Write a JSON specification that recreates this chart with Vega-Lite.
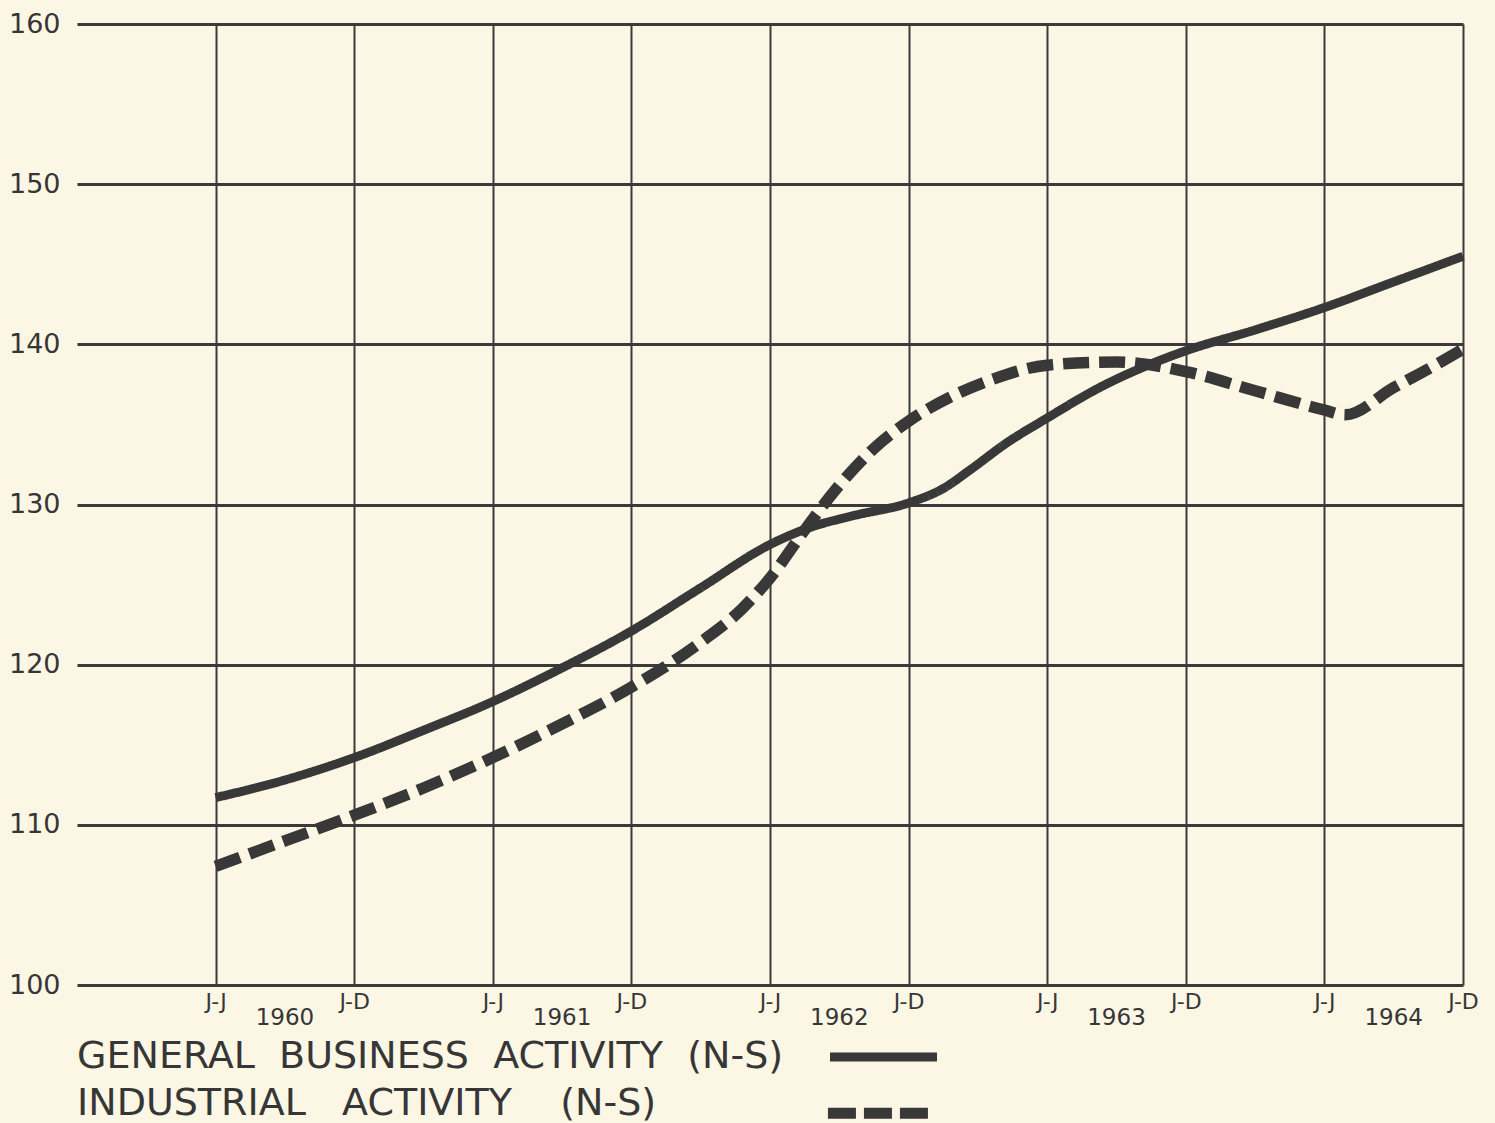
{
  "$schema": "https://vega.github.io/schema/vega-lite/v6.json",
  "width": 1386,
  "height": 961,
  "autosize": {"type": "none"},
  "padding": {"left": 77, "top": 24, "right": 32, "bottom": 138},
  "background": "#fbf7e4",
  "config": {
    "view": {"stroke": null},
    "font": "DejaVu Sans",
    "text": {"font": "DejaVu Sans", "color": "#363636"}
  },
  "datasets": {
    "series": [
      {"series": "General Business Activity (N-S)", "t": 0, "value": 111.7},
      {"series": "General Business Activity (N-S)", "t": 0.5, "value": 112.8},
      {"series": "General Business Activity (N-S)", "t": 1, "value": 114.2},
      {"series": "General Business Activity (N-S)", "t": 1.5, "value": 115.9},
      {"series": "General Business Activity (N-S)", "t": 2, "value": 117.7},
      {"series": "General Business Activity (N-S)", "t": 2.5, "value": 119.8},
      {"series": "General Business Activity (N-S)", "t": 3, "value": 122.1},
      {"series": "General Business Activity (N-S)", "t": 3.5, "value": 124.8},
      {"series": "General Business Activity (N-S)", "t": 4, "value": 127.5},
      {"series": "General Business Activity (N-S)", "t": 4.3, "value": 128.6},
      {"series": "General Business Activity (N-S)", "t": 4.6, "value": 129.3},
      {"series": "General Business Activity (N-S)", "t": 5, "value": 130.1},
      {"series": "General Business Activity (N-S)", "t": 5.25, "value": 131.0},
      {"series": "General Business Activity (N-S)", "t": 5.45, "value": 132.2},
      {"series": "General Business Activity (N-S)", "t": 5.7, "value": 133.8},
      {"series": "General Business Activity (N-S)", "t": 6, "value": 135.4},
      {"series": "General Business Activity (N-S)", "t": 6.4, "value": 137.4},
      {"series": "General Business Activity (N-S)", "t": 6.7, "value": 138.6},
      {"series": "General Business Activity (N-S)", "t": 7, "value": 139.6},
      {"series": "General Business Activity (N-S)", "t": 7.5, "value": 140.9},
      {"series": "General Business Activity (N-S)", "t": 8, "value": 142.3},
      {"series": "General Business Activity (N-S)", "t": 8.5, "value": 143.9},
      {"series": "General Business Activity (N-S)", "t": 9, "value": 145.5},
      {"series": "Industrial Activity (N-S)", "t": 0, "value": 107.4},
      {"series": "Industrial Activity (N-S)", "t": 0.5, "value": 109.0},
      {"series": "Industrial Activity (N-S)", "t": 1, "value": 110.6},
      {"series": "Industrial Activity (N-S)", "t": 1.5, "value": 112.3},
      {"series": "Industrial Activity (N-S)", "t": 2, "value": 114.2},
      {"series": "Industrial Activity (N-S)", "t": 2.5, "value": 116.3},
      {"series": "Industrial Activity (N-S)", "t": 3, "value": 118.6},
      {"series": "Industrial Activity (N-S)", "t": 3.5, "value": 121.4},
      {"series": "Industrial Activity (N-S)", "t": 3.8, "value": 123.5},
      {"series": "Industrial Activity (N-S)", "t": 4, "value": 125.4},
      {"series": "Industrial Activity (N-S)", "t": 4.25, "value": 128.4},
      {"series": "Industrial Activity (N-S)", "t": 4.5, "value": 131.2},
      {"series": "Industrial Activity (N-S)", "t": 4.75, "value": 133.5},
      {"series": "Industrial Activity (N-S)", "t": 5, "value": 135.2},
      {"series": "Industrial Activity (N-S)", "t": 5.3, "value": 136.7},
      {"series": "Industrial Activity (N-S)", "t": 5.6, "value": 137.8},
      {"series": "Industrial Activity (N-S)", "t": 6, "value": 138.7},
      {"series": "Industrial Activity (N-S)", "t": 6.5, "value": 138.9},
      {"series": "Industrial Activity (N-S)", "t": 7, "value": 138.3},
      {"series": "Industrial Activity (N-S)", "t": 7.5, "value": 137.1},
      {"series": "Industrial Activity (N-S)", "t": 8, "value": 135.9},
      {"series": "Industrial Activity (N-S)", "t": 8.15, "value": 135.6},
      {"series": "Industrial Activity (N-S)", "t": 8.5, "value": 137.3},
      {"series": "Industrial Activity (N-S)", "t": 8.8, "value": 138.7},
      {"series": "Industrial Activity (N-S)", "t": 9, "value": 139.7}
    ],
    "years": [
      {"year": "1960", "t": 0.5},
      {"year": "1961", "t": 2.5},
      {"year": "1962", "t": 4.5},
      {"year": "1963", "t": 6.5},
      {"year": "1964", "t": 8.5}
    ]
  },
  "layer": [
    {
      "data": {"name": "series"},
      "mark": {"type": "line", "interpolate": "monotone", "color": "#383838", "strokeCap": "butt"},
      "encoding": {
        "x": {
          "field": "t", "type": "quantitative",
          "scale": {"domain": [-1, 9], "nice": false, "zero": false},
          "axis": {
            "title": null, "values": [0, 1, 2, 3, 4, 5, 6, 7, 8, 9],
            "labelExpr": "datum.value % 2 == 0 ? 'J-J' : 'J-D'",
            "grid": true, "gridColor": "#3a3a3a", "gridWidth": 2, "gridOpacity": 1,
            "domain": false, "ticks": false, "labelPadding": 6,
            "labelFontSize": 22, "labelColor": "#363636", "labelFont": "DejaVu Sans",
            "labelFlush": false, "labelOverlap": false
          }
        },
        "y": {
          "field": "value", "type": "quantitative",
          "scale": {"domain": [100, 160], "nice": false, "zero": false},
          "axis": {
            "title": null, "values": [100, 110, 120, 130, 140, 150, 160],
            "grid": true, "gridColor": "#3a3a3a", "gridWidth": 3, "gridOpacity": 1,
            "domain": false, "ticks": false, "labelPadding": 17,
            "labelFontSize": 27, "labelColor": "#363636", "labelFont": "DejaVu Sans",
            "labelFlush": false, "labelOverlap": false
          }
        },
        "detail": {"field": "series"},
        "strokeDash": {
          "field": "series", "type": "nominal",
          "scale": {"domain": ["General Business Activity (N-S)", "Industrial Activity (N-S)"], "range": [[1, 0], [26, 10]]},
          "legend": null
        },
        "strokeWidth": {
          "field": "series", "type": "nominal",
          "scale": {"domain": ["General Business Activity (N-S)", "Industrial Activity (N-S)"], "range": [9, 11.5]},
          "legend": null
        }
      }
    },
    {
      "data": {"name": "years"},
      "mark": {"type": "text", "fontSize": 23, "align": "center", "baseline": "alphabetic", "color": "#363636"},
      "encoding": {
        "x": {"field": "t", "type": "quantitative"},
        "y": {"datum": 97.5},
        "text": {"field": "year"}
      }
    },
    {
      "data": {"values": [{}]},
      "mark": {"type": "text", "fontSize": 38, "align": "left", "baseline": "alphabetic", "color": "#363636",
               "text": "GENERAL\u00a0\u00a0BUSINESS\u00a0\u00a0ACTIVITY\u00a0\u00a0(N-S)"},
      "encoding": {"x": {"datum": -1}, "y": {"datum": 94.8}}
    },
    {
      "data": {"values": [{}]},
      "mark": {"type": "text", "fontSize": 38, "align": "left", "baseline": "alphabetic", "color": "#363636",
               "text": "INDUSTRIAL\u00a0\u00a0\u00a0ACTIVITY\u00a0\u00a0\u00a0\u00a0(N-S)"},
      "encoding": {"x": {"datum": -1}, "y": {"datum": 91.9}}
    },
    {
      "data": {"values": [{}]},
      "mark": {"type": "rule", "strokeWidth": 9, "color": "#383838", "strokeCap": "butt"},
      "encoding": {"x": {"datum": 4.433}, "x2": {"datum": 5.205}, "y": {"datum": 95.5}}
    },
    {
      "data": {"values": [{}]},
      "mark": {"type": "rule", "strokeWidth": 11, "color": "#383838", "strokeCap": "butt", "strokeDash": [28, 8]},
      "encoding": {"x": {"datum": 4.418}, "x2": {"datum": 5.14}, "y": {"datum": 92.0}}
    }
  ]
}
